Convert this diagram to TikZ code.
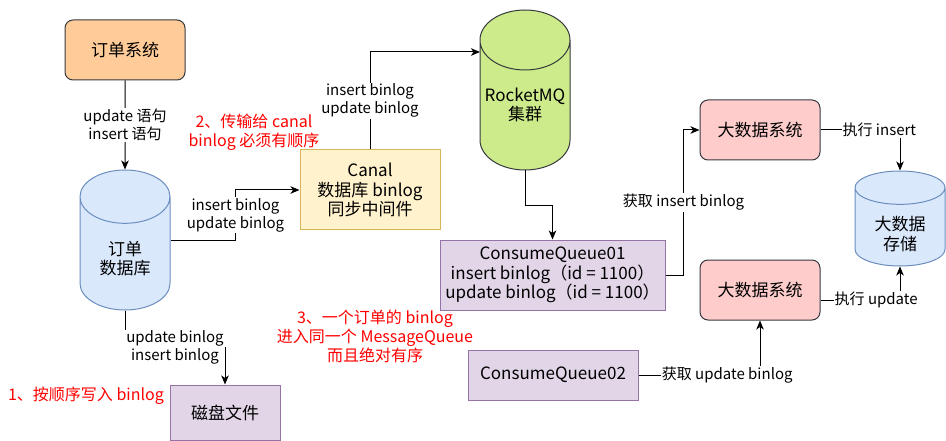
\documentclass[tikz,border=0pt]{standalone}
\usepackage{fontspec}
\setmainfont{Noto Sans CJK SC}
\usetikzlibrary{shapes.geometric, arrows.meta, calc}
\definecolor{darkline}{HTML}{36393D}
\definecolor{orangefill}{HTML}{FFCC99}
\definecolor{bluefill}{HTML}{DAE8FC}
\definecolor{blueline}{HTML}{6C8EBF}
\definecolor{purplefill}{HTML}{E1D5E7}
\definecolor{purpleline}{HTML}{9673A6}
\definecolor{yellowfill}{HTML}{FFF2CC}
\definecolor{yellowline}{HTML}{D6B656}
\definecolor{greenfill}{HTML}{CDEB8B}
\definecolor{pinkfill}{HTML}{FFCCCC}
\definecolor{notered}{HTML}{FF0000}
\tikzset{
    boxtext/.style={
        font=\fontsize{17}{19.5}\selectfont,
        align=center,
        line width=1pt,
    },
    sysbox/.style={
        boxtext,
        rectangle,
        rounded corners=8pt,
        draw=darkline,
        fill=orangefill,
        minimum width=120pt,
        minimum height=60pt,
    },
    bigbox/.style={
        boxtext,
        rectangle,
        rounded corners=8pt,
        draw=darkline,
        fill=pinkfill,
        minimum width=120pt,
        minimum height=60pt,
    },
    queuebox/.style={
        boxtext,
        rectangle,
        draw=purpleline,
        fill=purplefill,
    },
    canalbox/.style={
        boxtext,
        rectangle,
        draw=yellowline,
        fill=yellowfill,
        minimum width=140pt,
        minimum height=80pt,
    },
    dbcyl/.style={
        boxtext,
        cylinder,
        shape border rotate=90,
        anchor=shape center,
        draw=blueline,
        fill=bluefill,
        minimum width=90pt,
    },
    mqcyl/.style={
        boxtext,
        cylinder,
        shape border rotate=90,
        anchor=shape center,
        draw=darkline,
        fill=greenfill,
        minimum width=90pt,
    },
    cyltext/.style={
        font=\fontsize{17}{19.5}\selectfont,
        align=center,
    },
    lbl/.style={
        font=\fontsize{15}{18}\selectfont,
        align=center,
        fill=white,
        inner sep=1pt,
    },
    note/.style={
        font=\fontsize{16}{19}\selectfont,
        text=notered,
        align=center,
    },
}

\begin{document}
\begin{tikzpicture}[x=1pt, y=-1pt, ->, >={Stealth[length=9pt, width=7.5pt, inset=2.5pt]}, line width=1pt]
    \useasboundingbox (0,0) rectangle (946,441);

    \node[sysbox] (ordsys) at (125,50) {订单系统};
    \node[dbcyl, minimum height=140pt, aspect=8,
        label={[cyltext]center:订单\\数据库}] (orddb) at (125,240) {};
    \node[queuebox, minimum width=110pt, minimum height=55pt] (disk) at (225,412.5) {磁盘文件};
    \node[canalbox] (canal) at (370,190) {Canal\\数据库 binlog\\同步中间件};
    \node[mqcyl, minimum height=160pt, aspect=9,
        label={[cyltext, yshift=6pt]center:RocketMQ\\集群}] (mq) at (525,90) {};
    \node[queuebox, minimum width=225pt, minimum height=70pt] (cq1) at (552.5,275)
        {ConsumeQueue01\\insert binlog（id = 1100）\\update binlog（id = 1100）};
    \node[queuebox, minimum width=170pt, minimum height=50pt] (cq2) at (553,375) {ConsumeQueue02};
    \node[bigbox] (bd1) at (760,130) {大数据系统};
    \node[bigbox] (bd2) at (760,290) {大数据系统};
    \node[dbcyl, minimum height=95pt, aspect=5,
        label={[cyltext, yshift=-4pt]center:大数据\\存储}] (bds) at (900,218.5) {};

    \node[note] (note1) at (86,396) {1、按顺序写入 binlog};
    \node[note] (note2) at (254,132) {2、传输给 canal\\binlog 必须有顺序};
    \node[note] (note3) at (375,336) {3、一个订单的 binlog\\进入同一个 MessageQueue\\而且绝对有序};

    \draw (ordsys.south) -- node[lbl]{update 语句\\insert 语句} (orddb.north);
    \draw (orddb.south) -- ++(0,37) -| node[lbl, pos=0.25]{update binlog\\insert binlog} (disk.north);
    \draw (orddb.shape center -| orddb.east) -- ++(65,0) |- node[lbl, pos=0.25]{insert binlog\\update binlog} (canal.west);
    \draw (canal.north) |- node[lbl, pos=0.25]{insert binlog\\update binlog} ($(mq.shape center)+(-45,-38)$);
    \draw (mq.south) -- ++(0,35) -| (cq1.north);
    \draw (cq1.east) -- ++(18,0) |- node[lbl, pos=0.25]{获取 insert binlog} (bd1.west);
    \draw (bd1.east) -| node[lbl, pos=0.37]{执行 insert} (bds.north);
    \draw ([yshift=-10pt]bd2.east) -| node[lbl, pos=0.35]{执行 update} (bds.south);
    \draw (cq2.east) -| node[lbl, pos=0.365]{获取 update binlog} (bd2.south);
\end{tikzpicture}
\end{document}
